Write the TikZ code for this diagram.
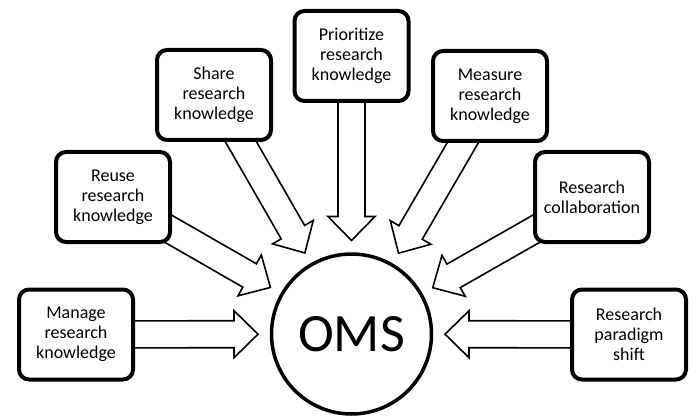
\documentclass[tikz,border=0pt]{standalone}
\usepackage{fontspec}
\setmainfont{Carlito}
\usetikzlibrary{calc,backgrounds}
\tikzset{
  box/.style={draw, line width=4pt, rounded corners=10pt, fill=white,
    minimum width=114pt, minimum height=90pt, inner sep=2pt, align=center,
    font=\fontsize{18}{20}\selectfont},
  hub/.style={draw, circle, line width=3.5pt, fill=white, minimum size=160pt,
    inner sep=0pt, font=\fontsize{54}{60}\selectfont},
  fatarrow/.style={draw, fill=white, line width=1.6pt, line join=miter}
}
\newcommand\fatarrow[2]{%
  \draw[fatarrow] let \p1=(#2.center), \p2=(#1.center),
    \n1={atan2(\y2-\y1,\x2-\x1)} in
    ($(\p1)+(\n1:93.5pt)$)
 -- ($(\p1)+(\n1:117.5pt)+(\n1+90:23.5pt)$)
 -- ($(\p1)+(\n1:117.5pt)+(\n1+90:13.5pt)$)
 -- ($(\p2)+(\n1+90:13.5pt)$)
 -- ($(\p2)+(\n1-90:13.5pt)$)
 -- ($(\p1)+(\n1:117.5pt)+(\n1-90:13.5pt)$)
 -- ($(\p1)+(\n1:117.5pt)+(\n1-90:23.5pt)$)
 -- cycle;}
\begin{document}
\begin{tikzpicture}[x=1pt,y=-1pt]
\useasboundingbox (0,0) rectangle (696,417);
\node[hub] (oms) at (351.5,334) {OMS};
\node[box] (manage) at (76,334.5) {Manage\\research\\knowledge};
\node[box] (reuse) at (113,197) {Reuse\\research\\knowledge};
\node[box] (share) at (214,95) {Share\\research\\knowledge};
\node[box] (prior) at (351.5,56) {Prioritize\\research\\knowledge};
\node[box] (measure) at (490,96) {Measure\\research\\knowledge};
\node[box] (collab) at (592,197) {Research\\collaboration};
\node[box] (shift) at (629,334.5) {Research\\paradigm\\shift};
\begin{pgfonlayer}{background}
\fatarrow{manage}{oms}
\fatarrow{reuse}{oms}
\fatarrow{share}{oms}
\fatarrow{prior}{oms}
\fatarrow{measure}{oms}
\fatarrow{collab}{oms}
\fatarrow{shift}{oms}
\end{pgfonlayer}
\end{tikzpicture}
\end{document}
